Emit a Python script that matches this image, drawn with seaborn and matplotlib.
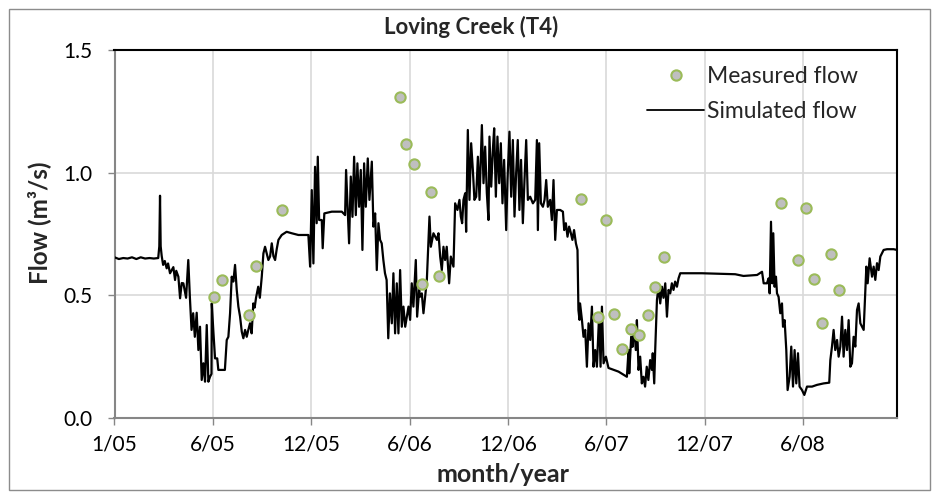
import matplotlib
matplotlib.use("Agg")
import matplotlib.pyplot as plt
import matplotlib.dates as mdates
from matplotlib.lines import Line2D
from matplotlib.patches import Rectangle
import seaborn as sns
import pandas as pd

# ---------------- data ----------------
title = "Loving Creek (T4)"
x_label = "month/year"
y_label = "Flow (m³/s)"
series_names = ["Measured flow", "Simulated flow"]
start_date = "2005-01-01"
tick_step_days = 180
n_xticks = 8
x_end_day = 1432
y_ticks = [0.0, 0.5, 1.0, 1.5]

measured_dates = [
    "2005-07-03", "2005-07-17", "2005-09-04", "2005-09-17", "2005-11-04",
    "2006-06-07", "2006-06-18", "2006-07-03", "2006-07-17", "2006-08-04", "2006-08-18",
    "2007-05-04", "2007-06-04", "2007-06-19", "2007-07-04", "2007-07-18",
    "2007-08-04", "2007-08-18", "2007-09-04", "2007-09-18", "2007-10-04",
    "2008-05-05", "2008-06-05", "2008-06-19", "2008-07-04", "2008-07-18",
    "2008-08-04", "2008-08-18",
]
measured_flow = [
    0.493, 0.561, 0.418, 0.620, 0.849,
    1.307, 1.117, 1.037, 0.546, 0.920, 0.578,
    0.893, 0.410, 0.807, 0.423, 0.281,
    0.361, 0.340, 0.418, 0.533, 0.655,
    0.876, 0.643, 0.857, 0.567, 0.387,
    0.668, 0.520,
]

# simulated flow: day offset from start_date
sim_day = [
    0, 8, 16, 24, 32, 40, 48, 56, 64, 72, 80,
    82, 83.3, 84.5, 86.4, 89, 92, 95.5, 98, 101.6, 104,
    107.7, 110.8, 113, 116.9, 120, 123, 126, 128.5, 131, 135,
    138, 141, 144, 147, 150.4, 153.5, 156.5, 159.6, 162.7, 165.7,
    168.8, 171.8, 174.8, 177.5, 178, 181, 184, 188, 190, 202,
    205.4, 208.4, 211.5, 214.5, 217.5, 220.6, 223.7, 226.7, 229.8, 232.9,
    235.8, 239, 242, 245, 248, 251, 254, 256.5, 259, 263,
    266, 269.5, 272.5, 275.5, 278.6, 281.6, 284.7, 287.8, 290.8, 293.9,
    297, 300, 306, 315, 324.4, 336.5, 354.8,
    358, 361, 364, 367, 370, 372, 374.5, 379.3, 381, 384,
    397.6, 416, 422, 423.8, 427, 429.3, 432.4, 435.5, 438.5, 441.6,
    444.5, 447.6, 450.7, 453.7, 456.8, 459.9, 463.5, 466.5, 470.9, 473.8,
    477, 480, 483, 486, 489, 492, 495, 498, 501, 504,
    507.5, 510.4, 513.5, 516.6, 519.6, 522.7, 525.8, 528.8, 532, 538,
    541, 544, 547, 551.4, 553.8, 557.5, 559, 562.4, 565.4, 571.6,
    576.4, 578.9, 583.7, 590, 592.9, 596, 599, 602, 605, 608,
    612.4, 615.5, 620.3, 623.4, 627.6, 631.3, 633.8, 636.2, 638.6, 641.7,
    643.5, 646.6, 649.6, 652.7, 655.8, 658.7, 661.9, 665, 668, 672.3,
    675.3, 678.3, 681.4, 684.4, 686.2, 689.4, 692.4, 694.8, 697.9, 700.8,
    704, 707, 710, 713, 716.8, 719.2, 722.8, 726, 729, 732,
    735, 738, 741, 744, 747.3, 750.3, 753.4, 756.5, 760.7, 765.7,
    769.9, 773, 774.8, 777.2, 780.3, 784, 787, 790, 793, 797.3,
    800.4, 803.4, 806.5, 809.6, 815.6, 820.6, 823, 826, 829, 832,
    835.2, 838, 841, 844.4, 847.3,
    849, 851, 852, 855.4, 858.3, 861.4, 864.5, 867.5, 870.6, 873.7,
    876.6, 879.7, 882.8, 887, 889.5, 892, 895, 899.3, 904, 922.4,
    937.7, 940.7, 942, 945.6, 948, 951, 954, 956, 959, 962,
    965, 968, 971, 974, 977, 980.3, 983.5, 985, 987.7, 989.5,
    992.7, 995.6, 998.7, 1001.8, 1004.7, 1007.9, 1011, 1013.9, 1017, 1020,
    1023, 1026, 1029.3, 1032.2, 1035.3, 1075, 1136,
    1151, 1176, 1185, 1188, 1194, 1197, 1199, 1201.4, 1203.7, 1205.6,
    1208, 1210.5, 1212.4, 1215.3, 1218.4, 1221.5, 1223.4, 1226.3, 1229.4, 1231.8,
    1235.5, 1238.5, 1241.7, 1244.6, 1247.7, 1250.8, 1253.7, 1258.1, 1262.4, 1267.3,
    1276.5, 1285.6, 1297.7, 1308, 1310, 1313, 1316, 1319, 1322.3, 1325.2,
    1328.3, 1331.4, 1334.3, 1337.4, 1340.5, 1343.5, 1346.6, 1349.6, 1352.6, 1355.7,
    1358.8, 1361.8, 1364.9, 1368, 1371, 1374, 1375.9, 1378.3, 1381.9, 1386.3,
    1389.3, 1392.3, 1395.4, 1398.4, 1401.5, 1407.5, 1413.7, 1425.8, 1432,
]
sim_flow = [
    0.655, 0.648, 0.652, 0.650, 0.655, 0.648, 0.655, 0.650, 0.652, 0.650, 0.652,
    0.70, 0.906, 0.70, 0.66, 0.624, 0.64, 0.61, 0.63, 0.59, 0.60,
    0.615, 0.5625, 0.60, 0.576, 0.488, 0.55, 0.549, 0.52, 0.49, 0.644,
    0.49, 0.359, 0.427, 0.331, 0.429, 0.277, 0.372, 0.155, 0.223, 0.148,
    0.379, 0.148, 0.168, 0.18, 0.467, 0.35, 0.243, 0.243, 0.196, 0.196,
    0.318, 0.331, 0.427, 0.576, 0.556, 0.624, 0.522, 0.454, 0.413, 0.352,
    0.325, 0.359, 0.331, 0.36, 0.386, 0.345, 0.467, 0.45, 0.49, 0.535,
    0.49, 0.576, 0.671, 0.698, 0.671, 0.644, 0.658, 0.712, 0.66, 0.644,
    0.69, 0.726, 0.746, 0.759, 0.753, 0.746, 0.746,
    0.617, 0.929, 0.63, 1.024, 0.794, 1.065, 0.807, 0.807, 0.692, 0.834,
    0.841, 0.841, 0.827, 1.011, 0.834, 0.712, 0.984, 0.82, 1.065, 0.827,
    1.038, 0.861, 1.011, 0.685, 1.038, 0.861, 1.058, 0.889, 1.045, 0.78,
    0.834, 0.603, 0.794, 0.726, 0.712, 0.644, 0.59, 0.5625, 0.325, 0.508,
    0.386, 0.59, 0.345, 0.549, 0.345, 0.603, 0.372, 0.454, 0.372, 0.454,
    0.40, 0.549, 0.454, 0.644, 0.413, 0.522, 0.494, 0.508, 0.427, 0.5625,
    0.821, 0.698, 0.753, 0.726, 0.753, 0.658, 0.603, 0.698, 0.644, 0.698,
    0.549, 0.658, 0.617, 0.875, 0.848, 0.889, 0.821, 0.794, 0.889, 0.916,
    0.759, 1.174, 0.889, 1.12, 1.011, 0.889, 0.902, 1.065, 0.889, 1.194,
    0.957, 1.106, 0.916, 0.807, 1.147, 0.943, 1.092, 1.181, 0.902, 1.147,
    0.957, 1.12, 0.875, 1.052, 0.766, 0.97, 1.167, 0.902, 1.133, 0.821,
    0.998, 1.133, 0.848, 1.052, 0.794, 0.97, 1.133, 0.889, 0.902, 0.875,
    0.889, 1.133, 0.766, 1.12, 0.875, 0.861, 0.889, 0.97, 0.861, 0.889,
    0.807, 0.97, 0.726, 0.848, 0.848, 0.841, 0.766, 0.794, 0.739, 0.78,
    0.753, 0.726, 0.766, 0.712, 0.685,
    0.44, 0.40, 0.467, 0.40, 0.331, 0.359, 0.209, 0.386, 0.318, 0.454,
    0.209, 0.277, 0.209, 0.427, 0.209, 0.454, 0.223, 0.25, 0.204, 0.189,
    0.168, 0.277, 0.182, 0.331, 0.29, 0.372, 0.277, 0.399, 0.196, 0.25,
    0.141, 0.168, 0.128, 0.209, 0.155, 0.236, 0.196, 0.264, 0.141, 0.277,
    0.481, 0.535, 0.467, 0.535, 0.49, 0.549, 0.413, 0.522, 0.508, 0.549,
    0.522, 0.556, 0.535, 0.569, 0.59, 0.59, 0.586,
    0.579, 0.583, 0.596, 0.549, 0.549, 0.569, 0.508, 0.80, 0.549, 0.753,
    0.535, 0.576, 0.508, 0.494, 0.427, 0.467, 0.372, 0.399, 0.277, 0.114,
    0.168, 0.291, 0.128, 0.277, 0.141, 0.264, 0.128, 0.114, 0.094, 0.128,
    0.128, 0.135, 0.141, 0.144, 0.236, 0.291, 0.359, 0.277, 0.318, 0.25,
    0.291, 0.413, 0.25, 0.359, 0.277, 0.399, 0.209, 0.223, 0.331, 0.291,
    0.44, 0.467, 0.386, 0.372, 0.359, 0.522, 0.617, 0.549, 0.651, 0.576,
    0.617, 0.563, 0.631, 0.603, 0.658, 0.685, 0.688, 0.688, 0.685,
]
assert len(sim_day) == len(sim_flow)

# ---------------- style ----------------
sns.set_theme(style="white")
plt.rcParams["font.family"] = ["Lato", "DejaVu Sans"]

W, H = 940, 493
fig = plt.figure(figsize=(W / 100, H / 100), dpi=100)
ax_l, ax_r, ax_t, ax_b = 114.5, 897, 50, 418
ax = fig.add_axes([ax_l / W, 1 - ax_b / H, (ax_r - ax_l) / W, (ax_b - ax_t) / H])

start = pd.Timestamp(start_date)
sim_df = pd.DataFrame({"date": start + pd.to_timedelta(sim_day, unit="D"), "flow": sim_flow})
meas_df = pd.DataFrame({"date": pd.to_datetime(measured_dates), "flow": measured_flow})

line_color = "black"
pt_face, pt_edge = "#bfbfbf", "#9bbb59"

sns.lineplot(data=sim_df, x="date", y="flow", ax=ax, color=line_color, lw=1.6,
             estimator=None, sort=False, legend=False, zorder=3)
sns.scatterplot(data=meas_df, x="date", y="flow", ax=ax, s=55, color=pt_face,
                edgecolor=pt_edge, linewidth=1.5, legend=False, zorder=4)

# axes
tick_dates = [start + pd.Timedelta(days=tick_step_days * k) for k in range(n_xticks)]
ax.set_xlim(start, start + pd.Timedelta(days=x_end_day))
ax.set_xticks(mdates.date2num(tick_dates))
ax.set_xticklabels([f"{d.month}/{d:%y}" for d in tick_dates])
ax.set_ylim(0, 1.5)
ax.set_yticks(y_ticks)
ax.set_yticklabels([f"{v:.1f}" for v in y_ticks])
ax.set_xlabel("")
ax.set_ylabel("")

ax.grid(True, color="#d9d9d9", lw=1.2)
ax.set_axisbelow(True)
for s in ["top", "right"]:
    ax.spines[s].set_color("black")
    ax.spines[s].set_linewidth(1.5)
for s in ["left", "bottom"]:
    ax.spines[s].set_color("#868686")
    ax.spines[s].set_linewidth(1.5)

ax.tick_params(axis="both", direction="out", length=5, width=1, color="#868686",
               labelsize=15, labelcolor="black")
ax.tick_params(axis="y", pad=11, left=True)
ax.tick_params(axis="x", pad=7, bottom=True)

# texts
fig.text(471 / W, 1 - 27 / H, title, ha="center", va="center", fontsize=16, fontweight="bold")
fig.text(503 / W, 1 - 474 / H, x_label, ha="center", va="center", fontsize=18, fontweight="bold")
fig.text(39 / W, 1 - 223 / H, y_label, ha="center", va="center", rotation=90,
         fontsize=17.5, fontweight="bold")

# legend
handles = [
    Line2D([], [], marker="o", ls="none", markersize=7.4, markerfacecolor=pt_face,
           markeredgecolor=pt_edge, markeredgewidth=1.5),
    Line2D([], [], color=line_color, lw=1.3),
]
ax.legend(handles, series_names, loc="upper left", bbox_to_anchor=(647 / W, 1 - 66 / H),
          bbox_transform=fig.transFigure, frameon=False, fontsize=16.5,
          handlelength=2.5, handletextpad=0.13, labelspacing=0.62, borderpad=0,
          borderaxespad=0)

# chart-area border
fig.patches.append(Rectangle((8.5 / W, 1 - 490 / H), (930 - 8.5) / W, (490 - 8.5) / H,
                             transform=fig.transFigure, fill=False,
                             edgecolor="#8c8c8c", lw=1.0))

fig.savefig("out.png", dpi=100)
